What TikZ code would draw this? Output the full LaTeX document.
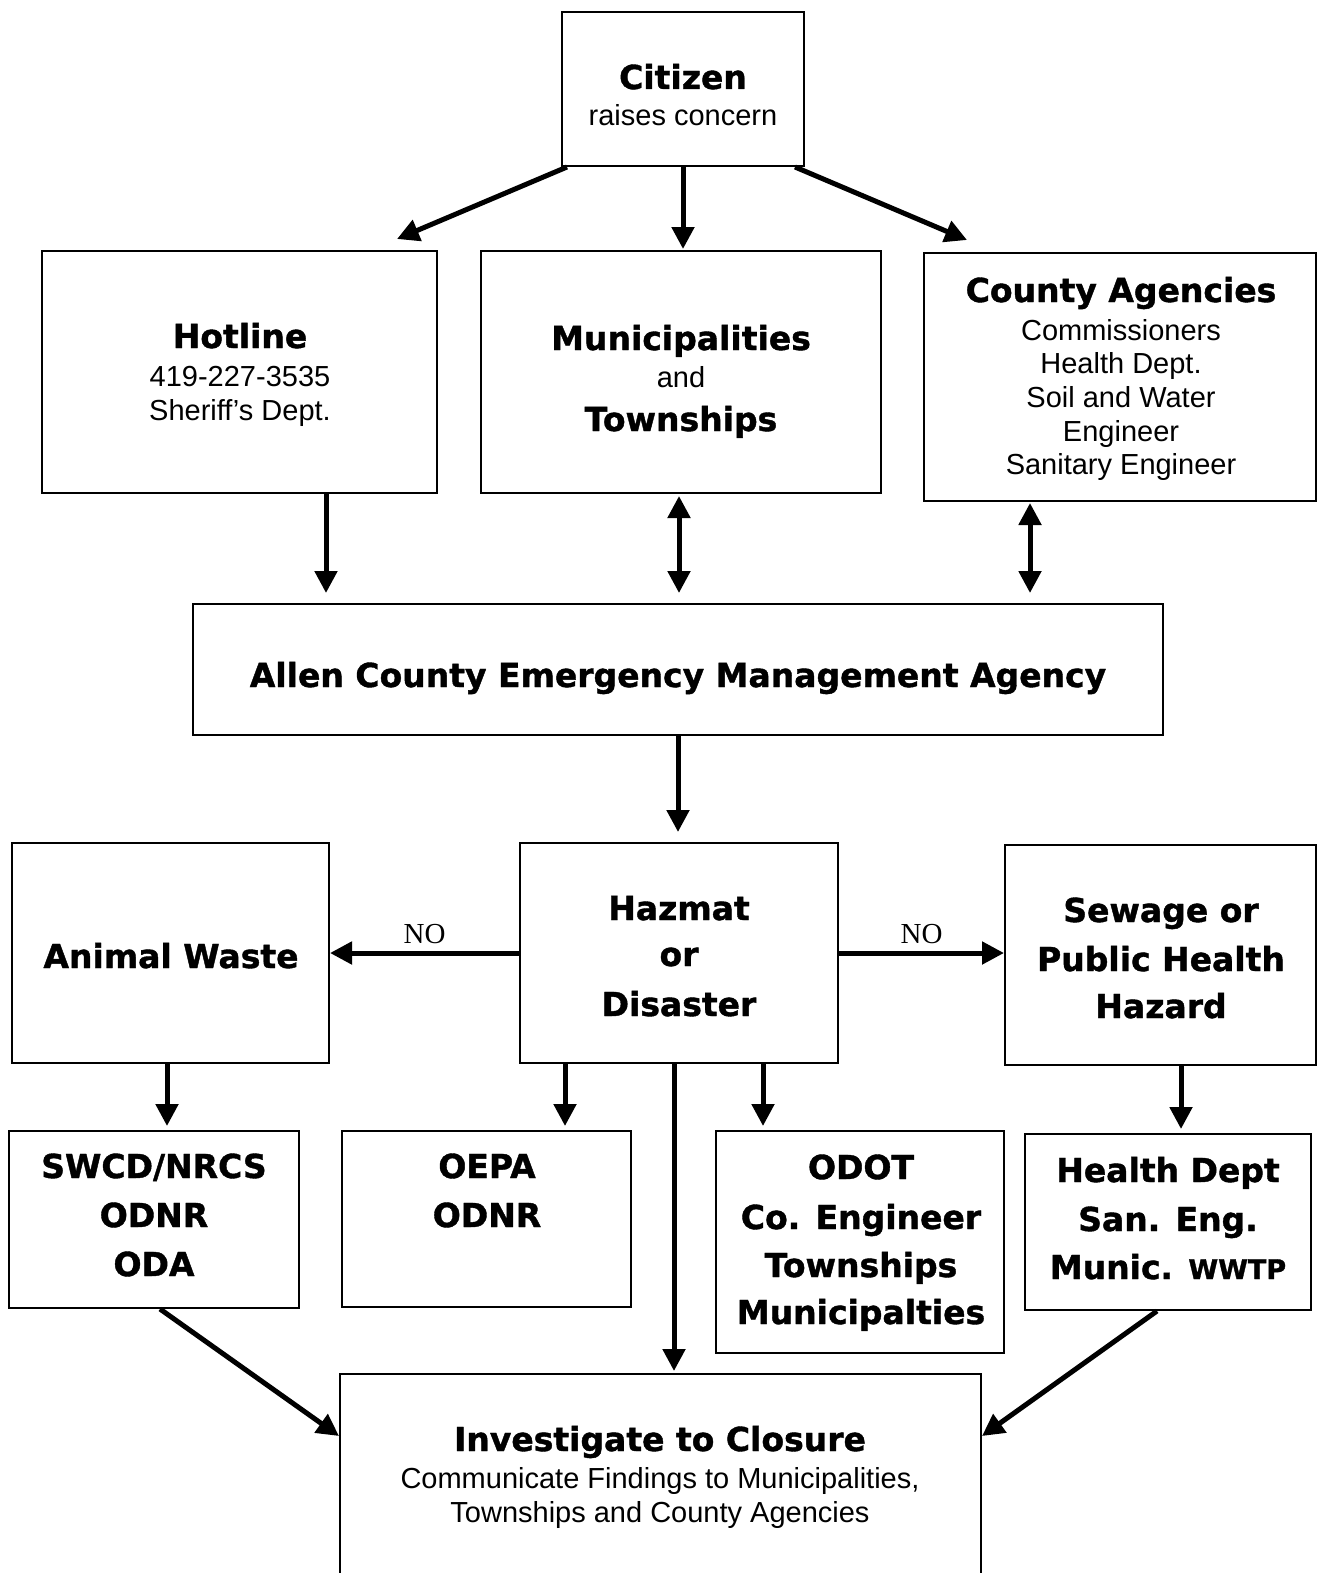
\documentclass[tikz,border=0pt]{standalone}
\usepackage{fontspec}
\setmainfont{Liberation Sans}
\newfontfamily\blk{DejaVu Sans}[BoldFeatures={FakeBold=1.2}]
\newfontfamily\tms{Liberation Serif}
\usetikzlibrary{arrows.meta,calc}
\tikzset{
  box/.style={draw, line width=2pt, rectangle, inner sep=0pt},
  hd/.style={anchor=base, inner sep=0pt, font=\blk\bfseries\fontsize{33}{40}\selectfont},
  rg/.style={anchor=base, inner sep=0pt, font=\fontsize{29}{34}\selectfont},
  nolab/.style={anchor=base, inner sep=0pt, font=\tms\fontsize{29}{34}\selectfont},
  arr/.style={line width=5pt, -{Triangle[length=22pt,width=22pt]}},
  darr/.style={line width=5pt, {Triangle[length=22pt,width=22pt]}-{Triangle[length=22pt,width=22pt]}},
}
\begin{document}
\begin{tikzpicture}[x=1pt,y=-1pt]
\clip (0,0) rectangle (1317,1573);
\fill[white] (0,0) rectangle (1317,1573);

% boxes
\node[box, minimum width=242pt, minimum height=154pt] (citizen) at (683,89) {};
\node[box, minimum width=395pt, minimum height=242pt] (hotline) at (239.5,372) {};
\node[box, minimum width=400pt, minimum height=242pt] (muni) at (681,372) {};
\node[box, minimum width=392pt, minimum height=248pt] (county) at (1120,377) {};
\node[box, minimum width=970pt, minimum height=131pt] (ema) at (678,669.5) {};
\node[box, minimum width=317pt, minimum height=220pt] (animal) at (170.5,953) {};
\node[box, minimum width=318pt, minimum height=220pt] (hazmat) at (679,953) {};
\node[box, minimum width=311pt, minimum height=220pt] (sewage) at (1160.5,955) {};
\node[box, minimum width=290pt, minimum height=177pt] (swcd) at (154,1219.5) {};
\node[box, minimum width=289pt, minimum height=176pt] (oepa) at (486.5,1219) {};
\node[box, minimum width=288pt, minimum height=222pt] (odot) at (860,1242) {};
\node[box, minimum width=286pt, minimum height=176pt] (health) at (1168,1222) {};
\node[box, minimum width=641pt, minimum height=216pt] (invest) at (660.5,1482) {};

% texts
\node[hd] (t-cit1) at (683,89) {Citizen};
\node[rg] (t-cit2) at (683,126) {raises concern};

\node[hd] (t-hot1) at (240,348) {Hotline};
\node[rg] (t-hot2) at (240,386) {419-227-3535};
\node[rg] (t-hot3) at (240,420) {Sheriff's Dept.};

\node[hd] (t-mun1) at (681,350) {Municipalities};
\node[rg] (t-mun2) at (681,387) {and};
\node[hd] (t-mun3) at (681,431) {Townships};

\node[hd] (t-cty1) at (1121,302) {County Agencies};
\node[rg] (t-cty2) at (1121,340) {Commissioners};
\node[rg] (t-cty3) at (1121,373) {Health Dept.};
\node[rg] (t-cty4) at (1121,407) {Soil and Water};
\node[rg] (t-cty5) at (1121,441) {Engineer};
\node[rg] (t-cty6) at (1121,474) {Sanitary Engineer};

\node[hd] (t-ema) at (678,687) {Allen County Emergency Management Agency};

\node[hd] (t-ani) at (171,968) {Animal Waste};

\node[hd] (t-haz1) at (679,920) {Hazmat};
\node[hd] (t-haz2) at (679,966) {or};
\node[hd] (t-haz3) at (679,1016) {Disaster};

\node[hd] (t-sew1) at (1161,922) {Sewage or};
\node[hd] (t-sew2) at (1161,971) {Public Health};
\node[hd] (t-sew3) at (1161,1018) {Hazard};

\node[hd] (t-swc1) at (154,1178) {SWCD/NRCS};
\node[hd] (t-swc2) at (154,1227) {ODNR};
\node[hd] (t-swc3) at (154,1276) {ODA};

\node[hd] (t-oep1) at (487,1178) {OEPA};
\node[hd] (t-oep2) at (487,1227) {ODNR};

\node[hd] (t-odo1) at (861,1179) {ODOT};
\node[hd] (t-odo2) at (861,1229) {Co. Engineer};
\node[hd] (t-odo3) at (861,1277) {Townships};
\node[hd] (t-odo4) at (861,1324) {Municipalties};

\node[hd] (t-hea1) at (1168,1182) {Health Dept};
\node[hd] (t-hea2) at (1168,1231) {San. Eng.};
\node[hd] (t-hea3) at (1168,1279) {Munic. {\fontsize{27}{32}\selectfont WWTP}};

\node[hd] (t-inv1) at (660,1451) {Investigate to Closure};
\node[rg] (t-inv2) at (660,1488) {Communicate Findings to Municipalities,};
\node[rg] (t-inv3) at (660,1522) {Townships and County Agencies};

% connectors
\draw[arr] ([xshift=6pt]citizen.south west) -- ($(hotline.north west)+(356,-11)$);
\draw[arr] (citizen.south) -- ([yshift=1pt]citizen.south |- muni.north);
\draw[arr] ([xshift=-10pt]citizen.south east) -- ($(county.north west)+(44,-12)$);

\draw[arr, shorten >=10pt] ([xshift=86.5pt]hotline.south) -- ([xshift=86.5pt]hotline.south |- ema.north);
\draw[darr, shorten <=2pt, shorten >=10pt] ([xshift=-2pt]muni.south) -- ([xshift=-2pt]muni.south |- ema.north);
\draw[darr, shorten <=1pt, shorten >=10pt] ([xshift=-90pt]county.south) -- ([xshift=-90pt]county.south |- ema.north);

\draw[arr, shorten >=10pt] (ema.south) -- (ema.south |- hazmat.north);

\draw[arr] (hazmat.west) -- (animal.east) node[nolab, midway, above=7pt] (no1) {NO};
\draw[arr] (hazmat.east) -- (hazmat.east -| sewage.west) node[nolab, midway, above=7pt] (no2) {NO};

\draw[arr, shorten >=4pt] ([xshift=-3.5pt]animal.south) -- ([xshift=-3.5pt]animal.south |- swcd.north);
\draw[arr, shorten >=4pt] ([xshift=-114pt]hazmat.south) -- ([xshift=-114pt]hazmat.south |- oepa.north);
\draw[arr, shorten >=4pt] ([xshift=84pt]hazmat.south) -- ([xshift=84pt]hazmat.south |- odot.north);
\draw[arr, shorten >=2pt] ([xshift=-5pt]hazmat.south) -- ([xshift=-5pt]hazmat.south |- invest.north);
\draw[arr, shorten >=4pt] ([xshift=20.5pt]sewage.south) -- ([xshift=20.5pt]sewage.south |- health.north);

\draw[arr] ([xshift=6pt]swcd.south) -- ($(invest.north west)+(0,63)$);
\draw[arr] ([xshift=-11pt]health.south) -- ($(invest.north east)+(0,63)$);
\end{tikzpicture}
\end{document}
